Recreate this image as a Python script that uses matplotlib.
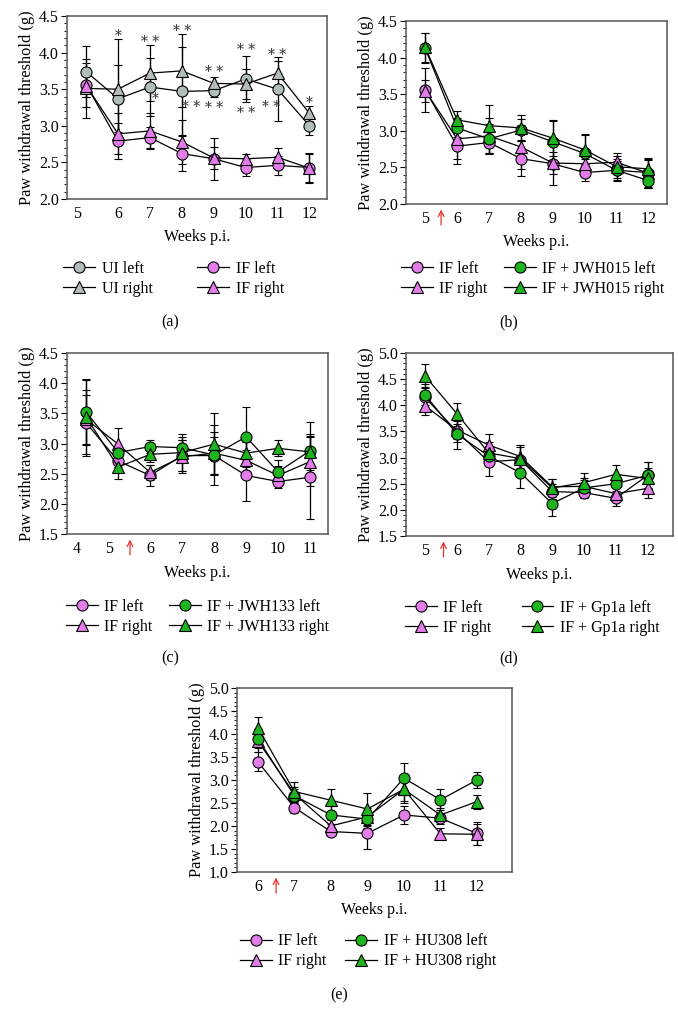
import numpy as np
import matplotlib.pyplot as plt
from matplotlib.lines import Line2D
from matplotlib.ticker import MultipleLocator, FormatStrFormatter
from matplotlib.transforms import ScaledTranslation

plt.rcParams['font.family'] = ['Liberation Serif', 'DejaVu Serif']

GRAY = '#b3bcbc'
PINK = '#e27ce9'
GREEN = '#1fb31f'

# (a) UI vs IF
weeks_a = [5, 6, 7, 8, 9, 10, 11, 12]
ui_left = [3.74, 3.37, 3.53, 3.47, 3.48, 3.64, 3.50, 3.00]
ui_left_err = [0.35, 0.46, 0.40, 0.60, 0.08, 0.32, 0.44, 0.13]
ui_right = [3.51, 3.50, 3.72, 3.75, 3.58, 3.57, 3.72, 3.17]
ui_right_err = [0.40, 0.68, 0.38, 0.50, 0.08, 0.20, 0.16, 0.10]
if_left = [3.56, 2.79, 2.84, 2.62, 2.55, 2.43, 2.46, 2.43]
if_left_err = [0.30, 0.25, 0.15, 0.24, 0.29, 0.12, 0.13, 0.20]
if_right = [3.55, 2.89, 2.93, 2.78, 2.56, 2.55, 2.57, 2.42]
if_right_err = [0.15, 0.28, 0.25, 0.30, 0.15, 0.06, 0.13, 0.20]

star_x = [6, 7, 7.18, 8, 8.28, 9, 9, 10, 10, 11, 10.8, 12]
star_y = [4.27, 4.18, 3.40, 4.33, 3.30, 3.78, 3.28, 4.08, 3.21, 4.01, 3.30, 3.35]
star_txt = ['*', '* *', '*', '* *', '* *', '* *', '* *', '* *', '* *', '* *', '* *', '*']

# (b) JWH015
weeks_b = [5, 6, 7, 8, 9, 10, 11, 12]
jwh015_left = [4.13, 3.04, 2.89, 3.01, 2.85, 2.69, 2.46, 2.32]
jwh015_left_err = [0.20, 0.12, 0.20, 0.15, 0.28, 0.25, 0.15, 0.10]
jwh015_right = [4.14, 3.15, 3.07, 3.04, 2.90, 2.74, 2.51, 2.48]
jwh015_right_err = [0.20, 0.12, 0.28, 0.17, 0.25, 0.22, 0.15, 0.12]

# (c) JWH133
weeks_c = [4, 5, 6, 7, 8, 9, 10, 11]
if_left_c = [3.34, 2.71, 2.47, 2.80, 2.80, 2.47, 2.37, 2.44]
if_left_c_err = [0.55, 0.10, 0.18, 0.25, 0.30, 0.42, 0.10, 0.69]
if_right_c = [3.40, 2.99, 2.52, 2.78, 2.84, 2.72, 2.47, 2.70]
if_right_c_err = [0.40, 0.26, 0.12, 0.27, 0.35, 0.30, 0.15, 0.40]
jwh133_left = [3.52, 2.85, 2.95, 2.93, 2.81, 3.11, 2.53, 2.88]
jwh133_left_err = [0.55, 0.10, 0.10, 0.17, 0.50, 0.50, 0.20, 0.48]
jwh133_right = [3.44, 2.61, 2.82, 2.85, 2.99, 2.84, 2.92, 2.86]
jwh133_right_err = [0.62, 0.20, 0.12, 0.30, 0.52, 0.30, 0.13, 0.30]

# (d) Gp1a
weeks_d = [5, 6, 7, 8, 9, 10, 11, 12]
if_left_d = [4.15, 3.50, 2.92, 2.96, 2.35, 2.33, 2.22, 2.66]
if_left_d_err = [0.20, 0.20, 0.27, 0.25, 0.15, 0.10, 0.14, 0.25]
if_right_d = [3.99, 3.53, 3.24, 3.02, 2.44, 2.45, 2.31, 2.41]
if_right_d_err = [0.17, 0.18, 0.22, 0.22, 0.15, 0.12, 0.12, 0.19]
gp1a_left = [4.20, 3.45, 3.03, 2.71, 2.12, 2.42, 2.50, 2.66]
gp1a_left_err = [0.20, 0.28, 0.20, 0.29, 0.24, 0.18, 0.17, 0.25]
gp1a_right = [4.56, 3.84, 3.09, 2.98, 2.42, 2.52, 2.68, 2.60]
gp1a_right_err = [0.23, 0.20, 0.20, 0.26, 0.17, 0.18, 0.17, 0.20]

# (e) HU308
weeks_e = [6, 7, 8, 9, 10, 11, 12]
if_left_e = [3.40, 2.40, 1.88, 1.84, 2.24, 2.17, 1.84]
if_left_e_err = [0.20, 0.12, 0.10, 0.33, 0.19, 0.12, 0.25]
if_right_e = [3.85, 2.70, 2.00, 2.20, 2.80, 1.83, 1.82]
if_right_e_err = [0.25, 0.15, 0.12, 0.20, 0.25, 0.12, 0.23]
hu308_left = [3.90, 2.66, 2.24, 2.15, 3.04, 2.57, 3.00]
hu308_left_err = [0.20, 0.15, 0.20, 0.20, 0.32, 0.23, 0.17]
hu308_right = [4.14, 2.75, 2.56, 2.37, 2.80, 2.24, 2.53]
hu308_right_err = [0.24, 0.20, 0.25, 0.35, 0.30, 0.15, 0.15]

W, H = 678, 1028
fig = plt.figure(figsize=(W / 100, H / 100), dpi=100)


def add_ax(left, right, top, bottom):
    return fig.add_axes([left / W, 1 - bottom / H, (right - left) / W, (bottom - top) / H])


def draw_series(ax, x, y, err, color, marker):
    ax.errorbar(x, y, yerr=err, color='black', lw=0.9, elinewidth=0.9,
                capsize=3, capthick=0.9, marker=marker, ms=8,
                mfc=color, mec='black', mew=0.8)


def style_ax(ax, weeks, xlim, ylim, shift_labels=()):
    ax.set_xlim(*xlim)
    ax.set_ylim(*ylim)
    ax.set_xticks(weeks)
    ax.set_xticklabels([str(w) for w in weeks])
    ax.yaxis.set_major_locator(MultipleLocator(0.5))
    ax.yaxis.set_minor_locator(MultipleLocator(0.1))
    ax.yaxis.set_major_formatter(FormatStrFormatter('%.1f'))
    ax.tick_params(axis='y', which='major', length=4, width=0.8, labelsize=11.5, pad=2)
    ax.tick_params(axis='y', which='minor', length=2, width=0.6)
    ax.tick_params(axis='x', length=0, labelsize=11.5, pad=5)
    for s in ax.spines.values():
        s.set_color('#555555')
        s.set_linewidth(1.1)
    ax.set_ylabel('Paw withdrawal threshold (g)', fontsize=11.8, labelpad=3)
    for lab in ax.get_xticklabels():
        if lab.get_text() in shift_labels:
            lab.set_transform(lab.get_transform() + ScaledTranslation(-0.09, 0, fig.dpi_scale_trans))


def finish(ax, labels, colors, xlabel_y, leg_x, leg_y, colspace, arrow_x=None):
    ax.text(0.5, xlabel_y, 'Weeks p.i.', transform=ax.transAxes,
            ha='center', va='center', fontsize=11.5)
    markers = ['o', '^', 'o', '^']
    handles = [Line2D([], [], color='black', lw=0.9, marker=m, ms=8,
                      mfc=c, mec='black', mew=0.8)
               for m, c in zip(markers, colors)]
    ax.legend(handles, labels, loc='center', bbox_to_anchor=(leg_x, leg_y), ncol=2,
              frameon=False, fontsize=11.5, handlelength=2.0, handletextpad=0.4,
              columnspacing=colspace, labelspacing=0.25)
    if arrow_x is not None:
        ax.annotate('', xy=(arrow_x, -0.015), xytext=(arrow_x, -0.13),
                    xycoords=('data', 'axes fraction'),
                    textcoords=('data', 'axes fraction'),
                    arrowprops=dict(arrowstyle='->', color='#e8332a', lw=0.9),
                    annotation_clip=False)


# panel (a)
ax = add_ax(67, 327, 16, 199)
draw_series(ax, weeks_a, ui_left, ui_left_err, GRAY, 'o')
draw_series(ax, weeks_a, ui_right, ui_right_err, GRAY, '^')
draw_series(ax, weeks_a, if_left, if_left_err, PINK, 'o')
draw_series(ax, weeks_a, if_right, if_right_err, PINK, '^')
style_ax(ax, weeks_a, (4.4, 12.55), (2.0, 4.5), shift_labels=('5',))
for x, y, t in zip(star_x, star_y, star_txt):
    ax.text(x, y - 0.04, t, ha='center', va='center', fontsize=10,
            family='DejaVu Serif', color='#333333')
finish(ax, ['UI left', 'UI right', 'IF left', 'IF right'],
       [GRAY, GRAY, PINK, PINK], -0.21, 0.41, -0.437, 2.8)

# panel (b)
ax = add_ax(406, 667, 21, 204)
draw_series(ax, weeks_b, if_left, if_left_err, PINK, 'o')
draw_series(ax, weeks_b, if_right, if_right_err, PINK, '^')
draw_series(ax, weeks_b, jwh015_left, jwh015_left_err, GREEN, 'o')
draw_series(ax, weeks_b, jwh015_right, jwh015_right_err, GREEN, '^')
style_ax(ax, weeks_b, (4.4, 12.58), (2.0, 4.5))
finish(ax, ['IF left', 'IF right', 'IF + JWH015 left', 'IF + JWH015 right'],
       [PINK, PINK, GREEN, GREEN], -0.21, 0.485, -0.41, 1.0, arrow_x=5.5)

# panel (c)
ax = add_ax(67, 328, 353, 534)
draw_series(ax, weeks_c, if_left_c, if_left_c_err, PINK, 'o')
draw_series(ax, weeks_c, if_right_c, if_right_c_err, PINK, '^')
draw_series(ax, weeks_c, jwh133_left, jwh133_left_err, GREEN, 'o')
draw_series(ax, weeks_c, jwh133_right, jwh133_right_err, GREEN, '^')
style_ax(ax, weeks_c, (3.4, 11.56), (1.5, 4.5), shift_labels=('4', '5'))
finish(ax, ['IF left', 'IF right', 'IF + JWH133 left', 'IF + JWH133 right'],
       [PINK, PINK, GREEN, GREEN], -0.215, 0.5, -0.458, 1.0, arrow_x=5.37)

# panel (d)
ax = add_ax(406, 673, 353, 536)
draw_series(ax, weeks_d, if_left_d, if_left_d_err, PINK, 'o')
draw_series(ax, weeks_d, if_right_d, if_right_d_err, PINK, '^')
draw_series(ax, weeks_d, gp1a_left, gp1a_left_err, GREEN, 'o')
draw_series(ax, weeks_d, gp1a_right, gp1a_right_err, GREEN, '^')
style_ax(ax, weeks_d, (4.4, 12.8), (1.5, 5.0))
finish(ax, ['IF left', 'IF right', 'IF + Gp1a left', 'IF + Gp1a right'],
       [PINK, PINK, GREEN, GREEN], -0.215, 0.472, -0.448, 1.9, arrow_x=5.58)

# panel (e)
ax = add_ax(237, 512, 688, 872)
draw_series(ax, weeks_e, if_left_e, if_left_e_err, PINK, 'o')
draw_series(ax, weeks_e, if_right_e, if_right_e_err, PINK, '^')
draw_series(ax, weeks_e, hu308_left, hu308_left_err, GREEN, 'o')
draw_series(ax, weeks_e, hu308_right, hu308_right_err, GREEN, '^')
style_ax(ax, weeks_e, (5.43, 12.96), (1.0, 5.0))
finish(ax, ['IF left', 'IF right', 'IF + HU308 left', 'IF + HU308 right'],
       [PINK, PINK, GREEN, GREEN], -0.207, 0.476, -0.43, 1.2, arrow_x=6.5)

for x, y, t in [(170, 322, '(a)'), (509, 322, '(b)'), (170, 658, '(c)'),
                (509, 658, '(d)'), (339, 995, '(e)')]:
    fig.text(x / W, 1 - y / H, t, ha='center', va='center', fontsize=11.5)

fig.savefig('out.png', dpi=100)
